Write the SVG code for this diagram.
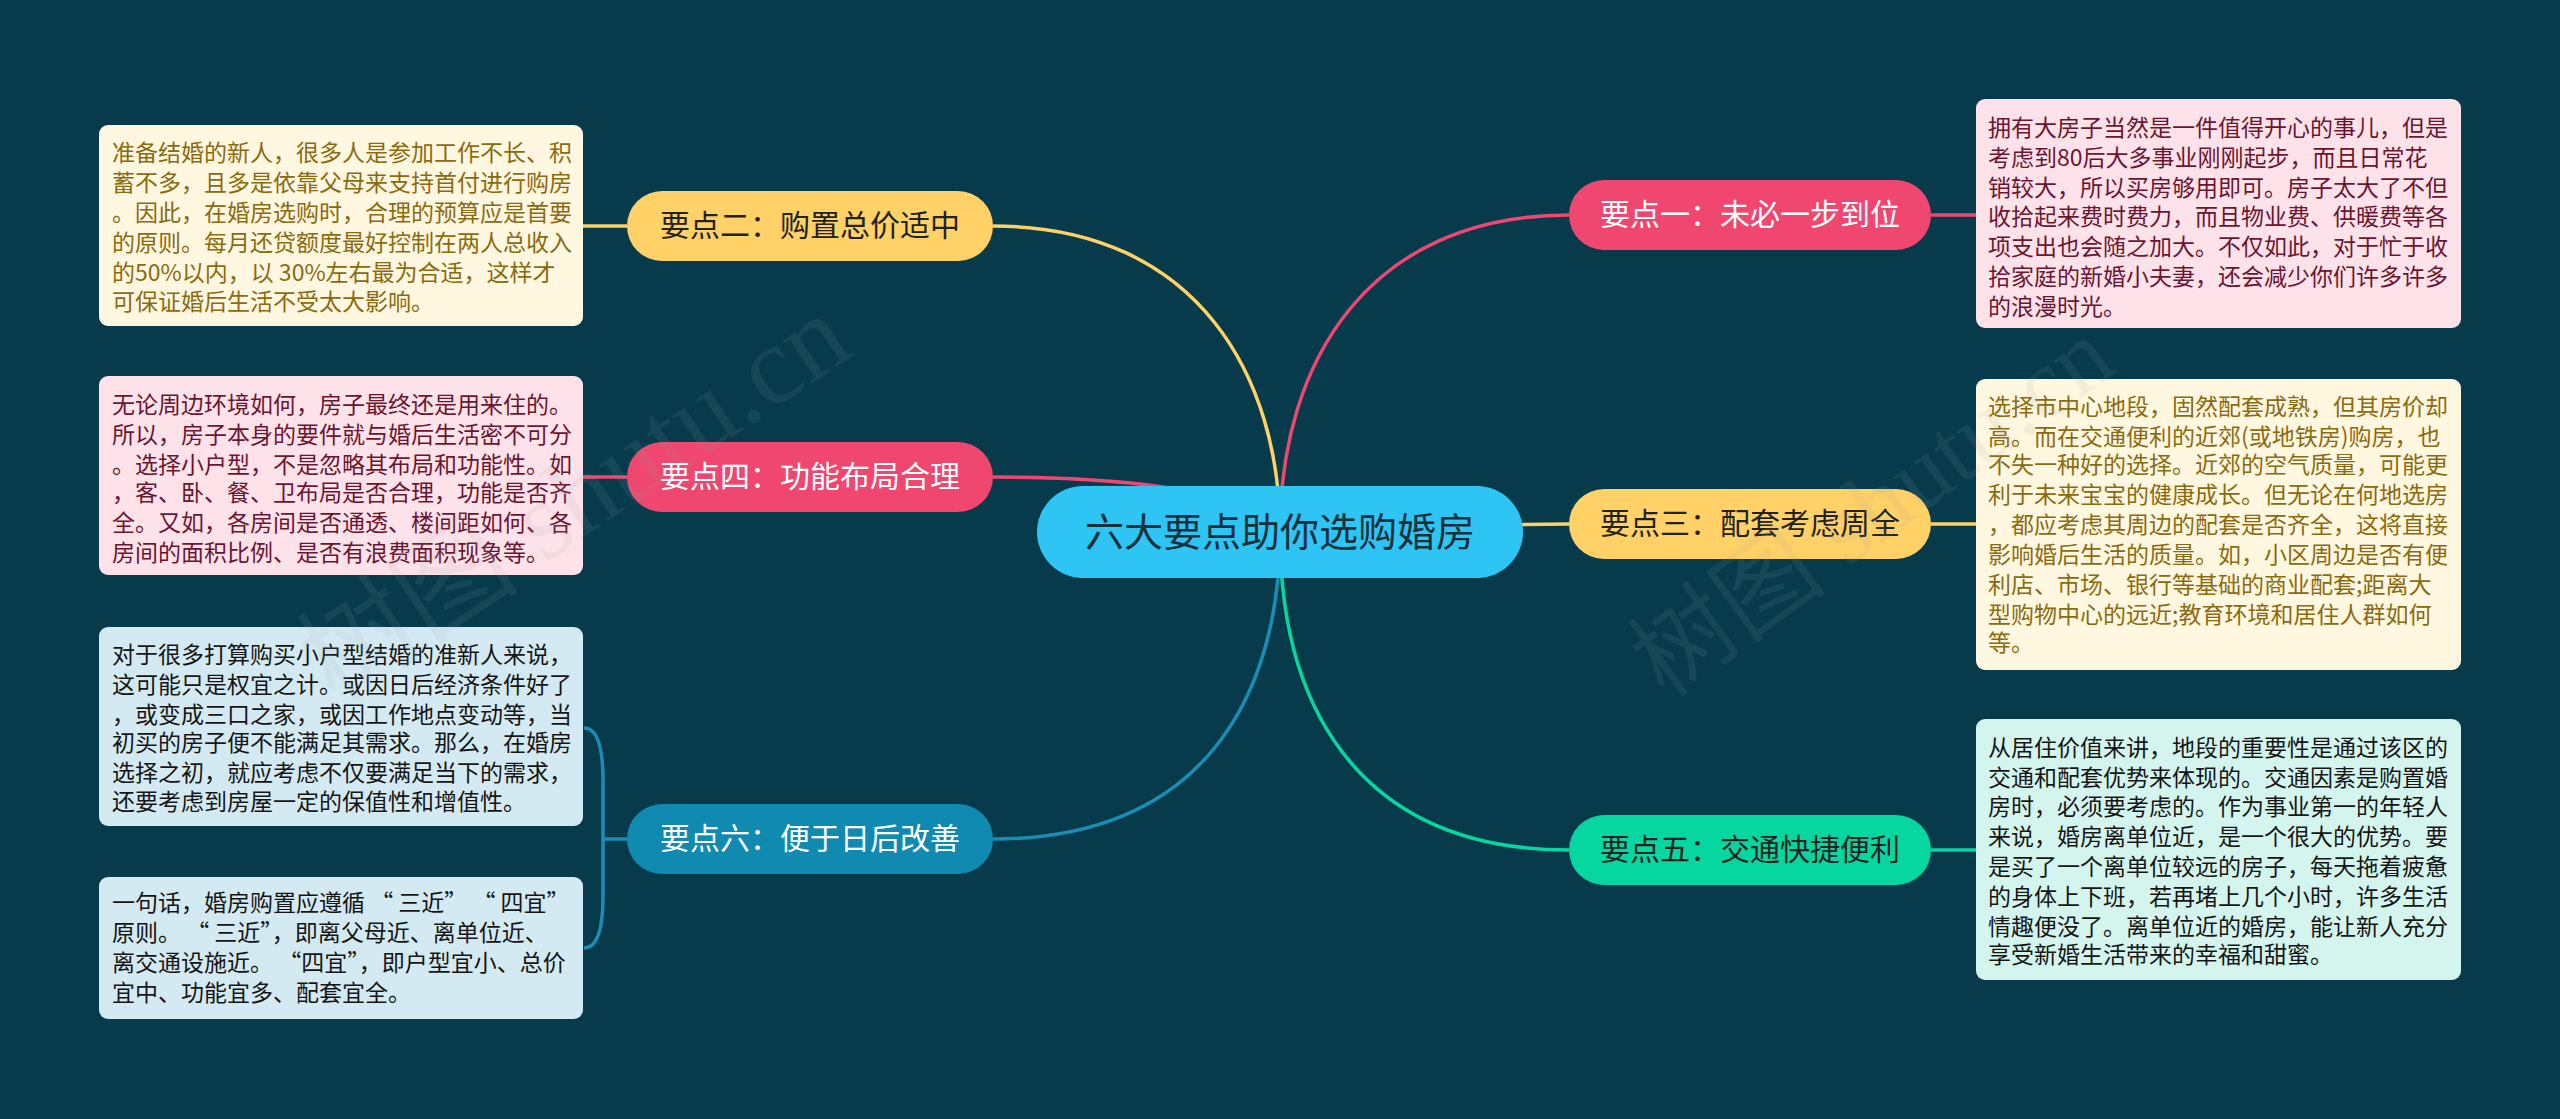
<svg xmlns="http://www.w3.org/2000/svg" width="2560" height="1119" viewBox="0 0 2560 1119">
<style>
.bg{fill:#073B4C}
.ln{fill:none;stroke-width:3.5}
.y{stroke:#FFD166}.p{stroke:#EF476F}.g{stroke:#06D6A0}.b{stroke:#1A8DB5}
.t{font-family:"Noto Sans CJK SC","Noto Sans",sans-serif}
.nt{font-size:30px;text-anchor:middle}
.bx{font-size:23px}
.wm{font-family:"Liberation Serif","Noto Sans CJK SC",serif;fill:#9aa4a8;opacity:0.11}
</style>
<rect class="bg" x="0" y="0" width="2560" height="1119"/>

<g id="connectors">
<path class="ln y" d="M1280 532 C1280 380 1200 226 993 226"/>
<path class="ln p" d="M1280 532 C1250 495 1150 477 993 477"/>
<path class="ln b" d="M1280 532 C1280 700 1200 839 993 839"/>
<path class="ln p" d="M1280 532 C1280 360 1370 215 1569 215"/>
<path class="ln y" d="M1280 532 C1400 532 1450 524 1569 524"/>
<path class="ln g" d="M1280 532 C1280 720 1370 850 1569 850"/>
<path class="ln y" d="M583 226 L627 226"/>
<path class="ln p" d="M583 477 L627 477"/>
<path class="ln b" d="M584 728 Q603 728 603 780 L603 896 Q603 948 584 948 M603 839 L627 839"/>
<path class="ln p" d="M1931 215 L1976 215"/>
<path class="ln y" d="M1931 524 L1976 524"/>
<path class="ln g" d="M1931 850 L1976 850"/>
</g>

<g id="center">
<rect x="1037" y="486" width="486" height="92" rx="46" fill="#2EC4F4"/>
<text class="t" x="1280" y="546" font-size="39" text-anchor="middle" fill="#17303a">六大要点助你选购婚房</text>
</g>

<g id="n2">
<rect x="627" y="191" width="366" height="70" rx="35" fill="#FFD166"/>
<text class="t nt" x="810" y="236" fill="#222">要点二：购置总价适中</text>
</g>
<g id="n4">
<rect x="627" y="442" width="366" height="70" rx="35" fill="#EF476F"/>
<text class="t nt" x="810" y="487" fill="#fff">要点四：功能布局合理</text>
</g>
<g id="n6">
<rect x="627" y="804" width="366" height="70" rx="35" fill="#118AB2"/>
<text class="t nt" x="810" y="849" fill="#fff">要点六：便于日后改善</text>
</g>
<g id="n1">
<rect x="1569" y="180" width="362" height="70" rx="35" fill="#EF476F"/>
<text class="t nt" x="1750" y="225" fill="#fff">要点一：未必一步到位</text>
</g>
<g id="n3">
<rect x="1569" y="489" width="362" height="70" rx="35" fill="#FFD166"/>
<text class="t nt" x="1750" y="534" fill="#222">要点三：配套考虑周全</text>
</g>
<g id="n5">
<rect x="1569" y="815" width="362" height="70" rx="35" fill="#06D6A0"/>
<text class="t nt" x="1750" y="860" fill="#222">要点五：交通快捷便利</text>
</g>

<g id="box2">
<rect x="99" y="125" width="484" height="201" rx="9" fill="#FFF7DF"/>
<text class="t bx" fill="#8B6A10">
<tspan x="112" y="161">准备结婚的新人，很多人是参加工作不长、积</tspan>
<tspan x="112" y="191">蓄不多，且多是依靠父母来支持首付进行购房</tspan>
<tspan x="112" y="221">。因此，在婚房选购时，合理的预算应是首要</tspan>
<tspan x="112" y="251">的原则。每月还贷额度最好控制在两人总收入</tspan>
<tspan x="112" y="281">的50%以内，以 30%左右最为合适，这样才</tspan>
<tspan x="112" y="310">可保证婚后生活不受太大影响。</tspan>
</text>
</g>

<g id="box4">
<rect x="99" y="376" width="484" height="199" rx="9" fill="#FDE2E9"/>
<text class="t bx" fill="#6B1530">
<tspan x="112" y="413">无论周边环境如何，房子最终还是用来住的。</tspan>
<tspan x="112" y="443">所以，房子本身的要件就与婚后生活密不可分</tspan>
<tspan x="112" y="473">。选择小户型，不是忽略其布局和功能性。如</tspan>
<tspan x="112" y="501">，客、卧、餐、卫布局是否合理，功能是否齐</tspan>
<tspan x="112" y="531">全。又如，各房间是否通透、楼间距如何、各</tspan>
<tspan x="112" y="561">房间的面积比例、是否有浪费面积现象等。</tspan>
</text>
</g>

<g id="box6a">
<rect x="99" y="627" width="484" height="199" rx="9" fill="#D4EAF2"/>
<text class="t bx" fill="#151515">
<tspan x="112" y="663">对于很多打算购买小户型结婚的准新人来说，</tspan>
<tspan x="112" y="693">这可能只是权宜之计。或因日后经济条件好了</tspan>
<tspan x="112" y="723">，或变成三口之家，或因工作地点变动等，当</tspan>
<tspan x="112" y="751">初买的房子便不能满足其需求。那么，在婚房</tspan>
<tspan x="112" y="781">选择之初，就应考虑不仅要满足当下的需求，</tspan>
<tspan x="112" y="810">还要考虑到房屋一定的保值性和增值性。</tspan>
</text>
</g>

<g id="box6b">
<rect x="99" y="877" width="484" height="142" rx="9" fill="#D4EAF2"/>
<text class="t bx" fill="#151515">
<tspan x="112" y="911">一句话，婚房购置应遵循 “ 三近” “ 四宜”</tspan>
<tspan x="112" y="941">原则。 “ 三近”，即离父母近、离单位近、</tspan>
<tspan x="112" y="971">离交通设施近。 “四宜”，即户型宜小、总价</tspan>
<tspan x="112" y="1001">宜中、功能宜多、配套宜全。</tspan>
</text>
</g>

<g id="box1">
<rect x="1976" y="99" width="485" height="229" rx="9" fill="#FDE2E9"/>
<text class="t bx" fill="#6B1530">
<tspan x="1988" y="136">拥有大房子当然是一件值得开心的事儿，但是</tspan>
<tspan x="1988" y="166">考虑到80后大多事业刚刚起步，而且日常花</tspan>
<tspan x="1988" y="196">销较大，所以买房够用即可。房子太大了不但</tspan>
<tspan x="1988" y="225">收拾起来费时费力，而且物业费、供暖费等各</tspan>
<tspan x="1988" y="255">项支出也会随之加大。不仅如此，对于忙于收</tspan>
<tspan x="1988" y="285">拾家庭的新婚小夫妻，还会减少你们许多许多</tspan>
<tspan x="1988" y="315">的浪漫时光。</tspan>
</text>
</g>

<g id="box3">
<rect x="1976" y="379" width="485" height="291" rx="9" fill="#FFF7DF"/>
<text class="t bx" fill="#8B6A10">
<tspan x="1988" y="415">选择市中心地段，固然配套成熟，但其房价却</tspan>
<tspan x="1988" y="445">高。而在交通便利的近郊(或地铁房)购房，也</tspan>
<tspan x="1988" y="473">不失一种好的选择。近郊的空气质量，可能更</tspan>
<tspan x="1988" y="503">利于未来宝宝的健康成长。但无论在何地选房</tspan>
<tspan x="1988" y="533">，都应考虑其周边的配套是否齐全，这将直接</tspan>
<tspan x="1988" y="563">影响婚后生活的质量。如，小区周边是否有便</tspan>
<tspan x="1988" y="593">利店、市场、银行等基础的商业配套;距离大</tspan>
<tspan x="1988" y="623">型购物中心的远近;教育环境和居住人群如何</tspan>
<tspan x="1988" y="651">等。</tspan>
</text>
</g>

<g id="box5">
<rect x="1976" y="719" width="485" height="261" rx="9" fill="#D4F5EE"/>
<text class="t bx" fill="#151515">
<tspan x="1988" y="756">从居住价值来讲，地段的重要性是通过该区的</tspan>
<tspan x="1988" y="786">交通和配套优势来体现的。交通因素是购置婚</tspan>
<tspan x="1988" y="815">房时，必须要考虑的。作为事业第一的年轻人</tspan>
<tspan x="1988" y="845">来说，婚房离单位近，是一个很大的优势。要</tspan>
<tspan x="1988" y="875">是买了一个离单位较远的房子，每天拖着疲惫</tspan>
<tspan x="1988" y="905">的身体上下班，若再堵上几个小时，许多生活</tspan>
<tspan x="1988" y="935">情趣便没了。离单位近的婚房，能让新人充分</tspan>
<tspan x="1988" y="963">享受新婚生活带来的幸福和甜蜜。</tspan>
</text>
</g>

<g id="watermarks">
<text class="wm" font-size="112" transform="translate(335 705) rotate(-34)">树图 shutu.cn</text>
<text class="wm" font-size="100" transform="translate(1665 700) rotate(-36)">树图 shutu.cn</text>
</g>
</svg>
